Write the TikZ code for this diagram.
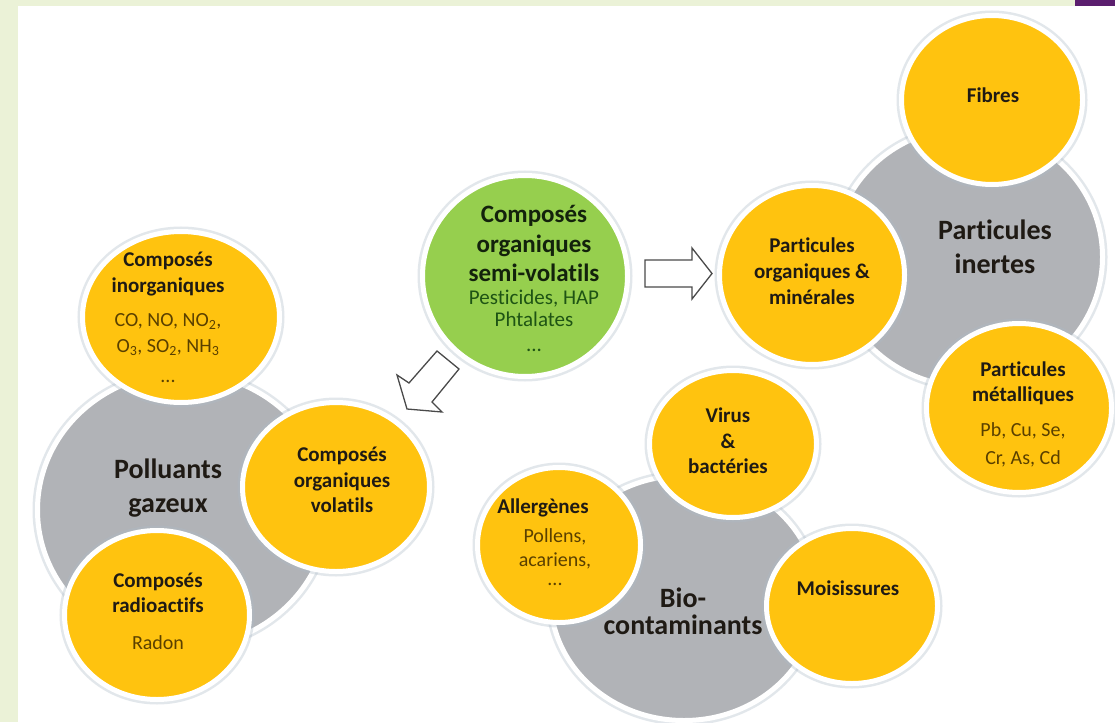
\documentclass[tikz,border=0pt]{standalone}
\usepackage{fontspec}
\setmainfont{Carlito}[RawFeature={-liga;-clig;-calt;-dlig}]
\usetikzlibrary{shapes.geometric}
\definecolor{bgstrip}{HTML}{EBF2D7}
\definecolor{purp}{HTML}{5B1E6E}
\definecolor{yelin}{HTML}{FFC30F}
\definecolor{yelout}{HTML}{E6A000}
\definecolor{grayin}{HTML}{B1B3B7}
\definecolor{grayout}{HTML}{94969B}
\definecolor{grnin}{HTML}{96CF4E}
\definecolor{grnout}{HTML}{6AB02E}
\definecolor{ttlc}{HTML}{1F1A14}
\definecolor{ysub}{HTML}{5A4000}
\definecolor{gsub}{HTML}{1E5414}
\definecolor{gttl}{HTML}{13220C}
\definecolor{arrowc}{HTML}{4A4A4A}
\definecolor{haloc}{HTML}{AEBBC8}
\pgfdeclareradialshading{yelshade}{\pgfpoint{0bp}{0bp}}{color(0bp)=(yelin); color(36bp)=(yelin); color(50bp)=(yelout)}
\pgfdeclareradialshading{grayshade}{\pgfpoint{0bp}{0bp}}{color(0bp)=(grayin); color(34bp)=(grayin); color(50bp)=(grayout)}
\pgfdeclareradialshading{grnshade}{\pgfpoint{0bp}{0bp}}{color(0bp)=(grnin); color(34bp)=(grnin); color(50bp)=(grnout)}
\newcommand\ysb[1]{{\mdseries\color{ysub}\fontsize{20}{24}\selectfont #1}}
\newcommand\gsb[1]{{\mdseries\color{gsub}\fontsize{21}{24}\selectfont #1}}
\tikzset{
  halo/.style={draw=haloc, draw opacity=0.35, line width=10pt},
  ball/.style={ellipse, inner sep=0pt, draw=white, line width=5pt, preaction={halo}},
  yball/.style={ball, shading=yelshade},
  gball/.style={ball, shading=grayshade},
  vball/.style={ball, shading=grnshade},
  btxt/.style={align=center, text=ttlc, inner sep=0pt, font=\bfseries\fontsize{21}{26}\selectfont},
  bigtxt/.style={align=center, text=ttlc, inner sep=0pt, font=\bfseries\fontsize{28}{33.5}\selectfont},
  blockarrow/.style={draw=arrowc, line width=1.3pt, fill=white, line join=miter}
}
\begin{document}
\begin{tikzpicture}[x=1pt,y=-1pt]
\useasboundingbox (0,0) rectangle (1115,722);
% background
\fill[white] (0,0) rectangle (1115,722);
\fill[bgstrip] (0,0) rectangle (1115,6);
\fill[bgstrip] (0,0) rectangle (18,722);
\fill[purp] (1075,0) rectangle (1115,6);

% gray hubs
\node[gball, minimum width=291pt, minimum height=275pt] (pol) at (183,510) {};
\node[gball, minimum width=269pt, minimum height=259pt] (inert) at (968,257) {};
\node[gball, minimum width=267pt, minimum height=245pt] (bio) at (684,598) {};

% green
\node[vball, minimum width=205pt, minimum height=201pt] (sv) at (525,276) {};

% yellow satellites
\node[yball, minimum width=197pt, minimum height=171pt] (inorg) at (181,317) {};
\node[yball, minimum width=187pt, minimum height=169pt] (cov) at (336,487) {};
\node[yball, minimum width=185pt, minimum height=169pt] (radio) at (157,615) {};
\node[yball, minimum width=181pt, minimum height=169pt] (fib) at (992,100) {};
\node[yball, minimum width=185pt, minimum height=179pt] (orgmin) at (812,275) {};
\node[yball, minimum width=185pt, minimum height=169pt] (metal) at (1019,408) {};
\node[yball, minimum width=167pt, minimum height=147pt] (virus) at (733,444) {};
\node[yball, minimum width=163pt, minimum height=155pt] (allerg) at (559,545) {};
\node[yball, minimum width=171pt, minimum height=155pt] (moisi) at (852,606) {};

% block arrows
\draw[blockarrow] (645,260) -- (692,260) -- (692,248) -- (712,273.5) -- (692,299) -- (692,287) -- (645,287) -- cycle;
\draw[blockarrow] (437,351) -- (409,383) -- (397,375) -- (407,409) -- (442,412) -- (432,402) -- (459,369) -- cycle;

% texts
\node[bigtxt] (polt) at (168,488) {Polluants\\gazeux};
\node[bigtxt] (inertt) at (995,247) {Particules\\inertes};
\node[bigtxt, font=\bfseries\fontsize{28}{27}\selectfont] (biot) at (683,611) {Bio-\\contaminants};

\node[btxt] (inorgt) at (168,317.5) {Composés\\inorganiques\\[8pt]\ysb{CO, NO, NO\textsubscript{2},}\\\ysb{O\textsubscript{3}, SO\textsubscript{2}, NH\textsubscript{3}}\\[4pt]\ysb{...}};
\node[btxt, font=\bfseries\fontsize{21}{25.5}\selectfont] (covt) at (342,480) {Composés\\organiques\\volatils};
\node[btxt, font=\bfseries\fontsize{21}{25}\selectfont] (radiot) at (158,611.5) {Composés\\radioactifs\\[12pt]\ysb{Radon}};
\node[btxt, text=gttl, font=\bfseries\fontsize{25}{29.5}\selectfont] (svt) at (534,278.5) {Composés\\organiques\\semi-volatils\\[-6.5pt]\gsb{Pesticides, HAP}\\[-7.5pt]\gsb{Phtalates}\\[-4.5pt]\gsb{...}};
\node[btxt] (fibt) at (993,95) {Fibres};
\node[btxt] (orgmint) at (812,271.7) {Particules\\organiques \&\\minérales};
\node[btxt, font=\bfseries\fontsize{21}{25}\selectfont] (metalt) at (1023,414.7) {Particules\\métalliques\\[10pt]\ysb{Pb, Cu, Se,}\\[3pt]\ysb{Cr, As, Cd}};
\node[btxt, font=\bfseries\fontsize{21}{25.5}\selectfont] (virust) at (728,440.8) {Virus\\\&\\bactéries};
\node[btxt] (allergt) at (543,507.8) {Allergènes};
\node[btxt, font=\mdseries\fontsize{20}{24}\selectfont] (allergs) at (555,557) {\ysb{Pollens,}\\\ysb{acariens,}\\[-5pt]\ysb{...}};
\node[btxt] (moisit) at (848,588.3) {Moisissures};
\end{tikzpicture}
\end{document}
